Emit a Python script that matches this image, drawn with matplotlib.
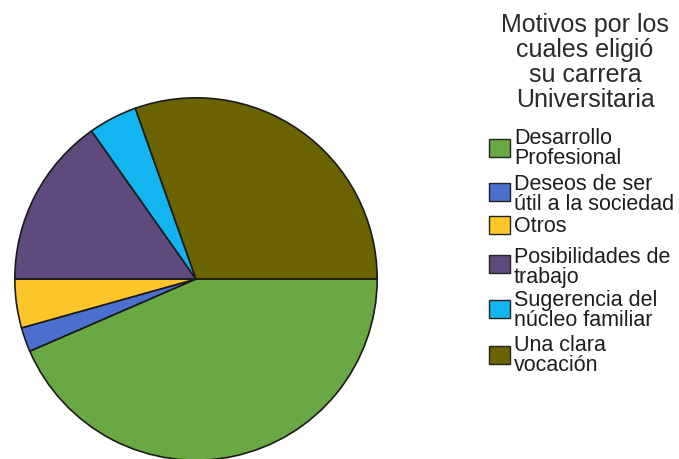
import matplotlib.pyplot as plt
from matplotlib.patches import Rectangle

# ── Data ──────────────────────────────────────────────────────────────────────
labels = ['Desarrollo\nProfesional', 'Deseos de ser\nútil a la sociedad', 'Otros',
          'Posibilidades de\ntrabajo', 'Sugerencia del\nnúcleo familiar',
          'Una clara\nvocación']
counts = [20, 1, 2, 7, 2, 14]
colors = ['#6aa843', '#4a6fcc', '#ffc62b', '#5f4a7e', '#12b5ef', '#6b6300']
title = 'Motivos por los\ncuales eligió\nsu carrera\nUniversitaria'

W, H = 679, 460
plt.rcParams['font.family'] = ['Liberation Sans', 'DejaVu Sans']
fig = plt.figure(figsize=(W / 100, H / 100), dpi=100)

# ── Pie ───────────────────────────────────────────────────────────────────────
cx, cy, r = 196, 280, 183
ax = fig.add_axes([(cx - r) / W, (H - cy - r) / H, 2 * r / W, 2 * r / H])
ax.pie(counts, colors=colors, startangle=0, counterclock=False, radius=1,
       wedgeprops=dict(edgecolor='#1a1a1a', linewidth=1.2))
ax.set_xlim(-1.01, 1.01)
ax.set_ylim(-1.01, 1.01)
ax.set_aspect('auto')
ax.axis('off')

# ── Legend (drawn by hand, one text per line, pixel baselines from the top) ──
for i, line in enumerate(title.split('\n')):
    fig.text(585 / W, 1 - (32 + 25 * i) / H, line, ha='center', va='baseline',
             fontsize=18, color='#2a2a2a')

baselines = [144, 190, 232, 263, 306, 351]
box_tops = [140, 184, 217, 256, 301, 347]
for lab, col, bl, bt in zip(labels, colors, baselines, box_tops):
    fig.patches.append(Rectangle((489 / W, 1 - (bt + 18) / H), 21 / W, 18 / H,
                                 transform=fig.transFigure, facecolor=col,
                                 edgecolor='#222222', linewidth=1.0))
    for j, line in enumerate(lab.split('\n')):
        fig.text(514 / W, 1 - (bl + 20 * j) / H, line, ha='left', va='baseline',
                 fontsize=15.5, color='#1e1e1e')

fig.savefig('out.png', dpi=100)
